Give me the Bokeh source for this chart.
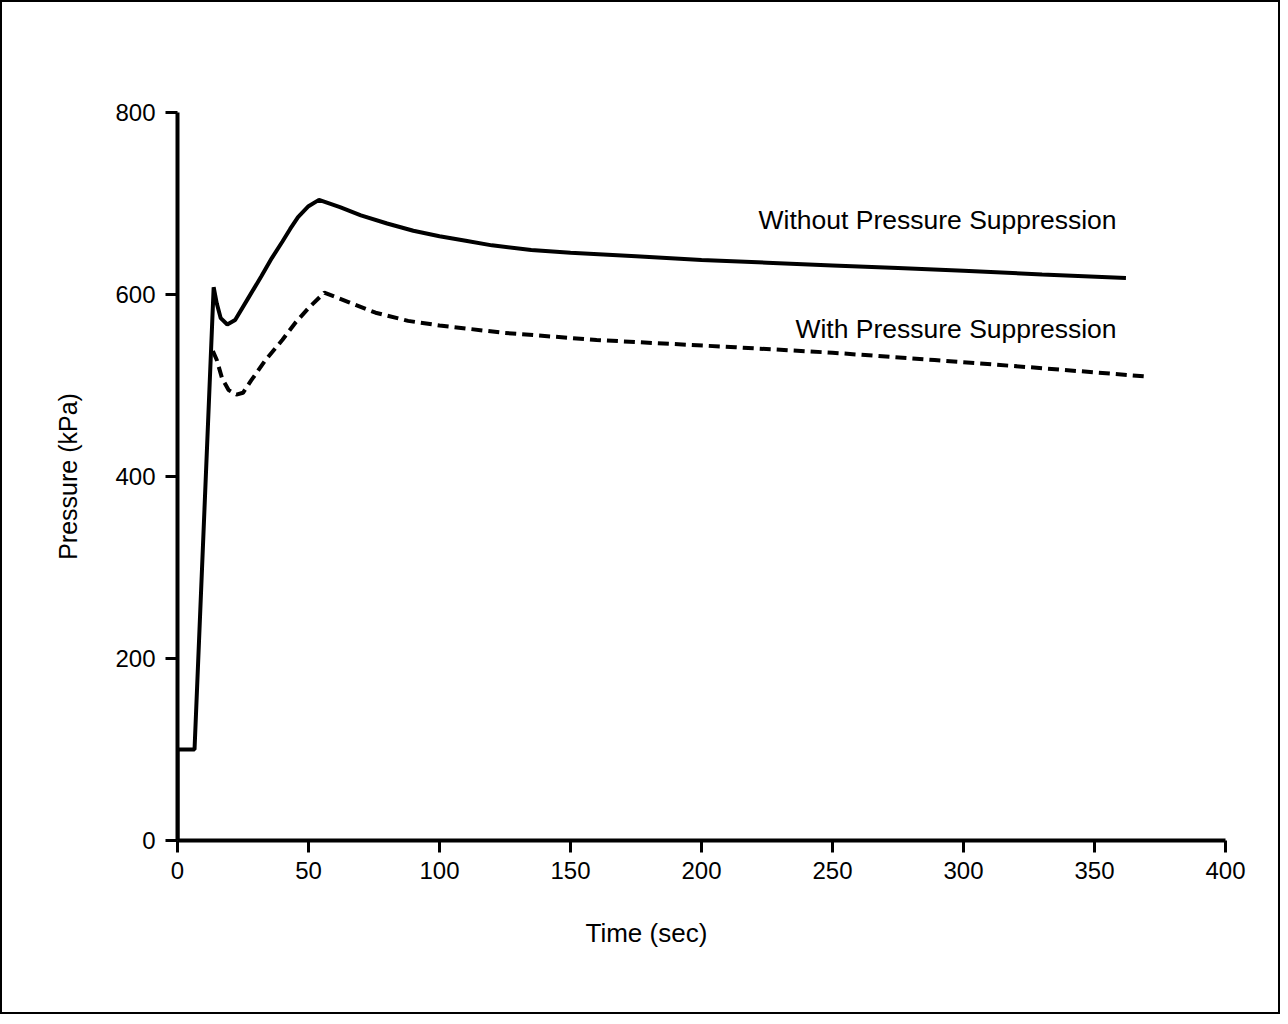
from bokeh.plotting import figure
from bokeh.embed import file_html
from bokeh.resources import INLINE
from bokeh.models import Range1d, FixedTicker, Title
from bokeh.core.properties import value

# Time (sec) and pressure (kPa)
without_t = [0, 0, 6.5, 13.8, 15, 16.5, 19, 22, 27, 32, 36, 40, 43, 46, 50, 54,
             62, 70, 80, 90, 100, 110, 120, 135, 150, 175, 200, 225, 250, 275,
             300, 330, 362]
without_p = [0, 100, 100, 608, 590, 574, 567, 572, 596, 620, 640, 658, 672, 685,
             697, 704, 696, 687, 678, 670, 664, 659, 654, 649, 646, 642, 638, 635,
             632, 629, 626, 622, 618]

with_t = [13.5, 15, 17, 19.5, 22.5, 25, 28, 33.6, 40, 45, 50, 56, 65, 75.6, 88,
          100, 124, 160, 213, 250, 289, 330, 369.5]
with_p = [538, 528, 508, 495, 490, 492, 505, 528, 550, 569, 585, 602, 592, 580,
          571, 566, 558, 550, 542, 536, 528, 519, 510]

x_ticks = [0, 50, 100, 150, 200, 250, 300, 350, 400]
y_ticks = [0, 200, 400, 600, 800]

label_without = "Without Pressure Suppression"
label_with = "With Pressure Suppression"
x_title = "Time (sec)"
y_title = "Pressure (kPa)"

FONT = "Liberation Sans"

p = figure(width=1280, height=1014, output_backend="svg", toolbar_location=None,
           x_range=Range1d(0, 400), y_range=Range1d(0, 800),
           min_border_left=175, min_border_right=57, min_border_top=110,
           min_border_bottom=176, background_fill_color="white",
           border_fill_color="white", styles={"border": "2px solid black"})
p.outline_line_color = None
p.grid.visible = False

p.line(without_t, without_p, line_color="black", line_width=4)
p.line(with_t, with_p, line_color="black", line_width=4, line_dash="11 6")

p.text(x=[358.4], y=[682], text=[label_without], text_align="right",
       text_baseline="middle", text_font=value(FONT), text_font_size="26.5px",
       text_color="black")
p.text(x=[358.4], y=[562], text=[label_with], text_align="right",
       text_baseline="middle", text_font=value(FONT), text_font_size="26.5px",
       text_color="black")

for ax in (p.xaxis[0], p.yaxis[0]):
    ax.axis_line_width = 4
    ax.axis_line_color = "black"
    ax.major_tick_line_width = 3
    ax.major_tick_line_color = "black"
    ax.major_tick_out = 12
    ax.major_tick_in = 0
    ax.minor_tick_line_color = None
    ax.major_label_text_font = FONT
    ax.major_label_text_font_size = "24px"
    ax.major_label_text_color = "black"
    ax.axis_label_text_font = FONT
    ax.axis_label_text_font_size = "25px"
    ax.axis_label_text_font_style = "normal"
    ax.axis_label_text_color = "black"

p.xaxis[0].ticker = FixedTicker(ticks=x_ticks)
p.yaxis[0].ticker = FixedTicker(ticks=y_ticks)
p.yaxis[0].axis_label = y_title
p.xaxis[0].major_label_standoff = 9
p.yaxis[0].major_label_standoff = 10
p.yaxis[0].axis_label_standoff = 30

# x-axis title sits left of the frame centre in the reference
p.add_layout(Title(text=x_title, align="left", offset=408, standoff=68,
                   text_font=FONT, text_font_size="26px",
                   text_font_style="normal", text_color="black"), "below")

open("out.html", "w").write(file_html(p, INLINE))
